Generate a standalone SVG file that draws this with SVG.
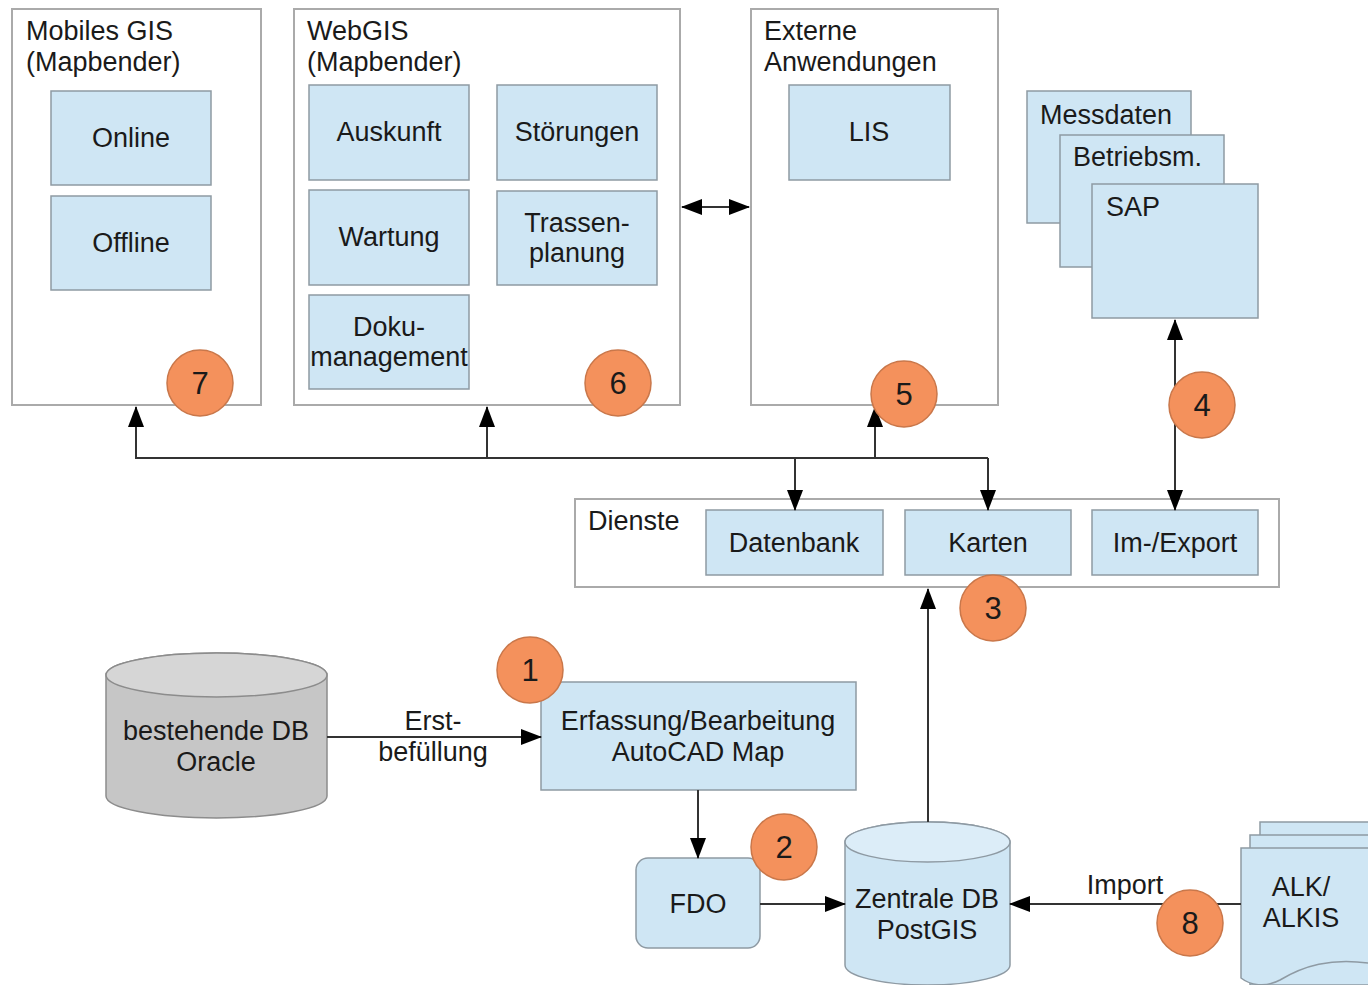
<svg xmlns="http://www.w3.org/2000/svg" width="1368" height="985" viewBox="0 0 1368 985">
<style>
text{font-family:"Liberation Sans",Arial,sans-serif;font-size:27px;fill:#1a1a1a}
.c{text-anchor:middle}
.cont{fill:#fff;stroke:#aaaaaa;stroke-width:2}
.box{fill:#cfe6f4;stroke:#8e9aa3;stroke-width:1.5}
.num{fill:#f4915c;stroke:#c9774a;stroke-width:1.5}
.nt{font-size:31px;text-anchor:middle}
.ln{fill:none;stroke:#333;stroke-width:2}
</style>
<defs>
<marker id="ah" markerUnits="userSpaceOnUse" markerWidth="22" markerHeight="16" refX="20" refY="8" orient="auto-start-reverse">
<path d="M0,0 L21,8 L0,16 z" fill="#000"/>
</marker>
</defs>
<rect width="1368" height="985" fill="#fff"/>

<g id="mobiles-gis">
<rect class="cont" x="12" y="9" width="249" height="396"/>
<text x="26" y="40">Mobiles GIS</text>
<text x="26" y="71">(Mapbender)</text>
<rect class="box" x="51" y="91" width="160" height="94"/>
<text class="c" x="131" y="147">Online</text>
<rect class="box" x="51" y="196" width="160" height="94"/>
<text class="c" x="131" y="252">Offline</text>
</g>

<g id="webgis">
<rect class="cont" x="294" y="9" width="386" height="396"/>
<text x="307" y="40">WebGIS</text>
<text x="307" y="71">(Mapbender)</text>
<rect class="box" x="309" y="85" width="160" height="95"/>
<text class="c" x="389" y="141">Auskunft</text>
<rect class="box" x="497" y="85" width="160" height="95"/>
<text class="c" x="577" y="141">Störungen</text>
<rect class="box" x="309" y="190" width="160" height="95"/>
<text class="c" x="389" y="246">Wartung</text>
<rect class="box" x="497" y="191" width="160" height="94"/>
<text class="c" x="577" y="232">Trassen-</text>
<text class="c" x="577" y="262">planung</text>
<rect class="box" x="309" y="295" width="160" height="94"/>
<text class="c" x="389" y="336">Doku-</text>
<text class="c" x="389" y="366">management</text>
</g>

<g id="externe">
<rect class="cont" x="751" y="9" width="247" height="396"/>
<text x="764" y="40">Externe</text>
<text x="764" y="71">Anwendungen</text>
<rect class="box" x="789" y="85" width="161" height="95"/>
<text class="c" x="869" y="141">LIS</text>
</g>

<g id="sap-stack">
<rect class="box" x="1027" y="91" width="164" height="132"/>
<text x="1040" y="124">Messdaten</text>
<rect class="box" x="1060" y="135" width="164" height="132"/>
<text x="1073" y="166">Betriebsm.</text>
<rect class="box" x="1092" y="184" width="166" height="134"/>
<text x="1106" y="216">SAP</text>
</g>

<g id="dienste">
<rect class="cont" x="575" y="499" width="704" height="88"/>
<text x="588" y="530">Dienste</text>
<rect class="box" x="706" y="510" width="177" height="65"/>
<text class="c" x="794" y="552">Datenbank</text>
<rect class="box" x="905" y="510" width="166" height="65"/>
<text class="c" x="988" y="552">Karten</text>
<rect class="box" x="1092" y="510" width="166" height="65"/>
<text class="c" x="1175" y="552">Im-/Export</text>
</g>

<g id="oracle-db">
<path d="M106,675 A110.5,22 0 0,1 327,675 L327,796 A110.5,22 0 0,1 106,796 Z" fill="#c6c6c6" stroke="#8c8c8c" stroke-width="1.5"/>
<ellipse cx="216.5" cy="675" rx="110.5" ry="22" fill="#d6d6d6" stroke="#8c8c8c" stroke-width="1.5"/>
<text class="c" x="216" y="740">bestehende DB</text>
<text class="c" x="216" y="771">Oracle</text>
</g>

<g id="erfassung">
<rect class="box" x="541" y="682" width="315" height="108"/>
<text class="c" x="698" y="730">Erfassung/Bearbeitung</text>
<text class="c" x="698" y="761">AutoCAD Map</text>
</g>

<g id="fdo">
<rect class="box" x="636" y="858" width="124" height="90" rx="12"/>
<text class="c" x="698" y="913">FDO</text>
</g>

<g id="zentrale-db">
<path d="M845,842 A82.5,20 0 0,1 1010,842 L1010,965 A82.5,20 0 0,1 845,965 Z" class="box"/>
<ellipse cx="927.5" cy="842" rx="82.5" ry="20" fill="#dcedf8" stroke="#8e9aa3" stroke-width="1.5"/>
<text class="c" x="927" y="908">Zentrale DB</text>
<text class="c" x="927" y="939">PostGIS</text>
</g>

<g id="alkis">
<rect class="box" x="1260" y="822" width="120" height="150"/>
<rect class="box" x="1250" y="835" width="130" height="150"/>
<path d="M1241,848 L1380,848 L1380,965 C1330,955 1300,968 1280,980 C1265,988 1250,985 1241,978 Z" class="box"/>
<text class="c" x="1301" y="896">ALK/</text>
<text class="c" x="1301" y="927">ALKIS</text>
</g>

<g id="connectors">
<line class="ln" x1="682" y1="207" x2="749" y2="207" marker-start="url(#ah)" marker-end="url(#ah)"/>
<polyline class="ln" points="136,407 136,458 988,458"/>
<line class="ln" x1="136" y1="458" x2="136" y2="407" marker-end="url(#ah)"/>
<line class="ln" x1="487" y1="458" x2="487" y2="407" marker-end="url(#ah)"/>
<line class="ln" x1="875" y1="458" x2="875" y2="407" marker-end="url(#ah)"/>
<line class="ln" x1="795" y1="458" x2="795" y2="510" marker-end="url(#ah)"/>
<line class="ln" x1="988" y1="458" x2="988" y2="510" marker-end="url(#ah)"/>
<line class="ln" x1="1175" y1="320" x2="1175" y2="510" marker-start="url(#ah)" marker-end="url(#ah)"/>
<line class="ln" x1="928" y1="822" x2="928" y2="589" marker-end="url(#ah)"/>
<line class="ln" x1="327" y1="737" x2="541" y2="737" marker-end="url(#ah)"/>
<line class="ln" x1="698" y1="790" x2="698" y2="858" marker-end="url(#ah)"/>
<line class="ln" x1="760" y1="904" x2="845" y2="904" marker-end="url(#ah)"/>
<line class="ln" x1="1241" y1="904" x2="1010" y2="904" marker-end="url(#ah)"/>
<text class="c" x="433" y="730">Erst-</text>
<text class="c" x="433" y="761">befüllung</text>
<text class="c" x="1125" y="894">Import</text>
</g>

<g id="badges">
<circle class="num" cx="200" cy="383" r="33"/><text class="nt" x="200" y="394">7</text>
<circle class="num" cx="618" cy="383" r="33"/><text class="nt" x="618" y="394">6</text>
<circle class="num" cx="904" cy="394" r="33"/><text class="nt" x="904" y="405">5</text>
<circle class="num" cx="1202" cy="405" r="33"/><text class="nt" x="1202" y="416">4</text>
<circle class="num" cx="993" cy="608" r="33"/><text class="nt" x="993" y="619">3</text>
<circle class="num" cx="530" cy="670" r="33"/><text class="nt" x="530" y="681">1</text>
<circle class="num" cx="784" cy="847" r="33"/><text class="nt" x="784" y="858">2</text>
<circle class="num" cx="1190" cy="923" r="33"/><text class="nt" x="1190" y="934">8</text>
</g>
</svg>
